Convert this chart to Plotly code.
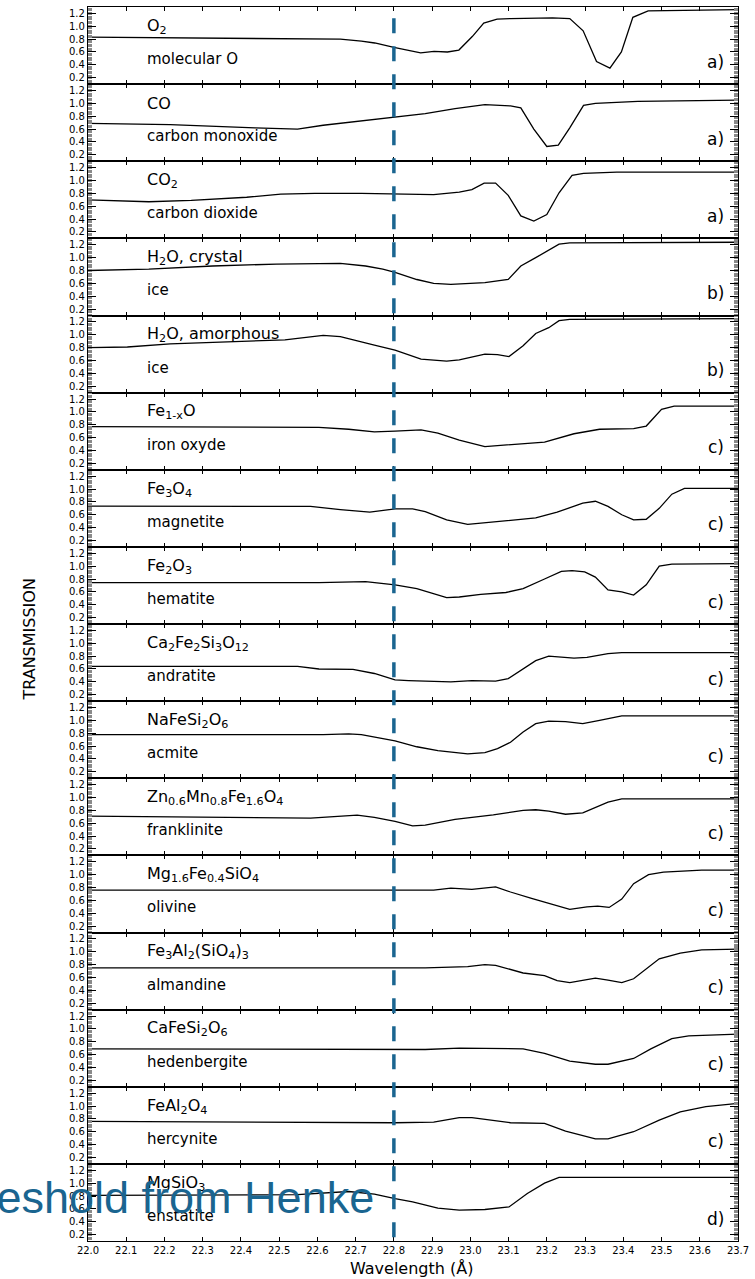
import plotly.graph_objects as go
from plotly.subplots import make_subplots

# ---- transmission curves (wavelength in Angstrom, transmission) ----
o2_wl = [22.00, 22.66, 22.715, 22.75, 22.80, 22.84, 22.87, 22.905, 22.94, 22.97, 23.005, 23.035,
         23.07, 23.105, 23.215, 23.26, 23.295, 23.33, 23.365, 23.395, 23.425, 23.465, 23.70]
o2_tr = [0.83, 0.80, 0.77, 0.74, 0.67, 0.62, 0.585, 0.61, 0.60, 0.63, 0.84, 1.05,
         1.11, 1.12, 1.13, 1.12, 0.93, 0.45, 0.35, 0.60, 1.14, 1.24, 1.26]

co_wl = [22.00, 22.215, 22.437, 22.526, 22.548, 22.615, 22.704, 22.803, 22.882, 22.96, 23.038,
         23.105, 23.132, 23.166, 23.20, 23.23, 23.26, 23.296, 23.327, 23.438, 23.70]
co_tr = [0.69, 0.67, 0.62, 0.595, 0.60, 0.66, 0.72, 0.79, 0.84, 0.92, 0.98,
         0.96, 0.93, 0.60, 0.33, 0.35, 0.62, 0.97, 1.00, 1.03, 1.05]

co2_wl = [22.00, 22.159, 22.27, 22.415, 22.504, 22.593, 22.715, 22.803, 22.904, 22.971, 23.004,
          23.036, 23.066, 23.099, 23.132, 23.166, 23.20, 23.232, 23.266, 23.296, 23.383, 23.70]
co2_tr = [0.70, 0.67, 0.69, 0.74, 0.79, 0.80, 0.80, 0.79, 0.78, 0.82, 0.86,
          0.96, 0.96, 0.77, 0.45, 0.37, 0.47, 0.81, 1.08, 1.11, 1.13, 1.13]

h2oc_wl = [22.00, 22.159, 22.326, 22.493, 22.66, 22.726, 22.771, 22.803, 22.86, 22.904, 22.949,
           23.038, 23.099, 23.132, 23.171, 23.232, 23.26, 23.70]
h2oc_tr = [0.80, 0.82, 0.87, 0.90, 0.91, 0.87, 0.82, 0.77, 0.66, 0.60, 0.585,
           0.61, 0.66, 0.87, 1.00, 1.21, 1.23, 1.24]

h2oa_wl = [22.00, 22.103, 22.215, 22.359, 22.515, 22.615, 22.66, 22.749, 22.803, 22.871, 22.938,
           22.971, 23.004, 23.038, 23.071, 23.101, 23.138, 23.171, 23.205, 23.232, 23.26, 23.70]
h2oa_tr = [0.80, 0.81, 0.86, 0.89, 0.92, 0.99, 0.97, 0.84, 0.76, 0.62, 0.59,
           0.61, 0.66, 0.70, 0.69, 0.66, 0.83, 1.02, 1.11, 1.22, 1.24, 1.25]

feo_wl = [22.00, 22.604, 22.682, 22.749, 22.803, 22.871, 22.915, 22.971, 23.038, 23.105, 23.194,
          23.271, 23.338, 23.427, 23.46, 23.50, 23.533, 23.70]
feo_tr = [0.77, 0.76, 0.73, 0.69, 0.70, 0.72, 0.67, 0.56, 0.46, 0.49, 0.53,
          0.66, 0.73, 0.74, 0.78, 1.04, 1.09, 1.09]

fe3o4_wl = [22.00, 22.582, 22.66, 22.737, 22.803, 22.849, 22.882, 22.938, 22.993, 23.049, 23.105,
            23.171, 23.227, 23.294, 23.327, 23.36, 23.396, 23.427, 23.46, 23.494, 23.527, 23.56, 23.70]
fe3o4_tr = [0.735, 0.73, 0.68, 0.64, 0.69, 0.69, 0.65, 0.52, 0.45, 0.48, 0.52,
            0.55, 0.64, 0.78, 0.81, 0.73, 0.60, 0.52, 0.53, 0.70, 0.92, 1.01, 1.01]

fe2o3_wl = [22.00, 22.604, 22.726, 22.803, 22.86, 22.938, 22.971, 23.027, 23.093, 23.138, 23.194,
            23.238, 23.266, 23.299, 23.327, 23.36, 23.396, 23.427, 23.46, 23.494, 23.527, 23.70]
fe2o3_tr = [0.745, 0.745, 0.76, 0.71, 0.65, 0.51, 0.52, 0.56, 0.59, 0.65, 0.80,
            0.92, 0.93, 0.91, 0.83, 0.63, 0.60, 0.55, 0.71, 1.00, 1.03, 1.04]

andr_wl = [22.00, 22.548, 22.604, 22.693, 22.749, 22.803, 22.838, 22.893, 22.949, 23.004, 23.066,
           23.099, 23.138, 23.171, 23.205, 23.232, 23.271, 23.305, 23.36, 23.396, 23.70]
andr_tr = [0.64, 0.64, 0.60, 0.595, 0.53, 0.43, 0.42, 0.41, 0.40, 0.42, 0.41,
           0.45, 0.60, 0.73, 0.80, 0.79, 0.77, 0.78, 0.84, 0.855, 0.855]

acm_wl = [22.00, 22.548, 22.615, 22.682, 22.715, 22.803, 22.86, 22.915, 22.993, 23.038, 23.071,
          23.105, 23.138, 23.171, 23.205, 23.249, 23.294, 23.338, 23.396, 23.70]
acm_tr = [0.78, 0.77, 0.78, 0.79, 0.78, 0.68, 0.59, 0.53, 0.48, 0.50, 0.56,
          0.66, 0.82, 0.95, 0.99, 0.98, 0.95, 1.00, 1.07, 1.07]

frank_wl = [22.00, 22.437, 22.582, 22.704, 22.749, 22.803, 22.849, 22.882, 22.96, 23.06, 23.138,
            23.171, 23.205, 23.249, 23.294, 23.36, 23.396, 23.70]
frank_tr = [0.71, 0.69, 0.68, 0.725, 0.69, 0.63, 0.56, 0.57, 0.66, 0.73, 0.80,
            0.81, 0.79, 0.74, 0.76, 0.93, 0.98, 0.98]

oliv_wl = [22.00, 22.803, 22.904, 22.949, 23.004, 23.066, 23.105, 23.16, 23.194, 23.26, 23.305,
           23.333, 23.363, 23.396, 23.427, 23.466, 23.505, 23.605, 23.70]
oliv_tr = [0.76, 0.755, 0.76, 0.79, 0.77, 0.81, 0.73, 0.63, 0.57, 0.46, 0.50,
           0.51, 0.49, 0.62, 0.86, 1.00, 1.04, 1.07, 1.07]

alm_wl = [22.00, 22.882, 22.993, 23.038, 23.066, 23.105, 23.138, 23.194, 23.227, 23.26, 23.294,
          23.327, 23.36, 23.396, 23.427, 23.46, 23.494, 23.549, 23.605, 23.70]
alm_tr = [0.75, 0.75, 0.77, 0.80, 0.79, 0.72, 0.67, 0.63, 0.55, 0.52, 0.55,
          0.59, 0.56, 0.52, 0.58, 0.74, 0.89, 0.98, 1.03, 1.04]

hed_wl = [22.00, 22.803, 22.882, 22.971, 23.049, 23.138, 23.194, 23.26, 23.327, 23.36, 23.427,
          23.472, 23.527, 23.571, 23.70]
hed_tr = [0.69, 0.68, 0.68, 0.70, 0.69, 0.69, 0.62, 0.50, 0.45, 0.45, 0.54,
          0.69, 0.85, 0.89, 0.92]

herc_wl = [22.00, 22.803, 22.904, 22.971, 23.004, 23.049, 23.105, 23.194, 23.249, 23.327, 23.36,
           23.427, 23.494, 23.549, 23.616, 23.70]
herc_tr = [0.76, 0.74, 0.75, 0.82, 0.82, 0.78, 0.74, 0.73, 0.61, 0.49, 0.49,
           0.60, 0.78, 0.91, 0.99, 1.04]

enst_wl = [22.00, 22.437, 22.548, 22.682, 22.749, 22.803, 22.849, 22.915, 22.971, 23.038, 23.101,
           23.149, 23.194, 23.232, 23.70]
enst_tr = [0.81, 0.81, 0.82, 0.87, 0.83, 0.76, 0.71, 0.61, 0.58, 0.59, 0.63,
           0.84, 1.00, 1.09, 1.09]

# ---- panel labels ----
formulas = ["O<sub>2</sub>", "CO", "CO<sub>2</sub>", "H<sub>2</sub>O, crystal", "H<sub>2</sub>O, amorphous",
            "Fe<sub>1-x</sub>O", "Fe<sub>3</sub>O<sub>4</sub>", "Fe<sub>2</sub>O<sub>3</sub>",
            "Ca<sub>2</sub>Fe<sub>2</sub>Si<sub>3</sub>O<sub>12</sub>", "NaFeSi<sub>2</sub>O<sub>6</sub>",
            "Zn<sub>0.6</sub>Mn<sub>0.8</sub>Fe<sub>1.6</sub>O<sub>4</sub>",
            "Mg<sub>1.6</sub>Fe<sub>0.4</sub>SiO<sub>4</sub>", "Fe<sub>3</sub>Al<sub>2</sub>(SiO<sub>4</sub>)<sub>3</sub>",
            "CaFeSi<sub>2</sub>O<sub>6</sub>", "FeAl<sub>2</sub>O<sub>4</sub>", "MgSiO<sub>3</sub>"]
names = ["molecular O", "carbon monoxide", "carbon dioxide", "ice", "ice", "iron oxyde", "magnetite",
         "hematite", "andratite", "acmite", "franklinite", "olivine", "almandine", "hedenbergite",
         "hercynite", "enstatite"]
refs = ["a)", "a)", "a)", "b)", "b)", "c)", "c)", "c)", "c)", "c)", "c)", "c)", "c)", "c)", "c)", "d)"]

wavelengths = [o2_wl, co_wl, co2_wl, h2oc_wl, h2oa_wl, feo_wl, fe3o4_wl, fe2o3_wl, andr_wl, acm_wl,
               frank_wl, oliv_wl, alm_wl, hed_wl, herc_wl, enst_wl]
transmissions = [o2_tr, co_tr, co2_tr, h2oc_tr, h2oa_tr, feo_tr, fe3o4_tr, fe2o3_tr, andr_tr, acm_tr,
                 frank_tr, oliv_tr, alm_tr, hed_tr, herc_tr, enst_tr]

y_ticks = [0.2, 0.4, 0.6, 0.8, 1.0, 1.2]
x_ticks = [round(22.0 + 0.1 * i, 1) for i in range(18)]
threshold = 22.8

FONT = "DejaVu Sans"
TEAL = "#1a6590"
n = len(formulas)

fig = make_subplots(rows=n, cols=1, shared_xaxes=True, vertical_spacing=0)

for i in range(n):
    row = i + 1
    fig.add_trace(go.Scatter(x=wavelengths[i], y=transmissions[i], mode="lines",
                             line=dict(color="black", width=1.3), showlegend=False,
                             hoverinfo="skip"), row=row, col=1)
    fig.update_xaxes(range=[22.0, 23.7], tickvals=x_ticks, ticktext=[f"{v:.1f}" for v in x_ticks],
                     ticks="inside", ticklen=4, tickwidth=1, tickcolor="black",
                     mirror="allticks", showline=True, linecolor="black", linewidth=1,
                     showgrid=False, zeroline=False, showticklabels=(row == n),
                     tickfont=dict(family=FONT, size=10, color="black"),
                     row=row, col=1)
    fig.update_yaxes(range=[0.1, 1.3], tickvals=y_ticks, ticktext=[f"{v:.1f}" for v in y_ticks],
                     ticks="inside", ticklen=8, tickwidth=1, tickcolor="black",
                     minor=dict(dtick=0.02, tick0=0.0, ticks="inside", ticklen=4, tickwidth=0.8,
                                tickcolor="#8a8a8a", showgrid=False),
                     mirror="allticks", showline=True, linecolor="black", linewidth=1.2,
                     showgrid=False, zeroline=False,
                     tickfont=dict(family=FONT, size=10, color="black"),
                     row=row, col=1)
    xr = "x" if row == 1 else f"x{row}"
    yr = "y" if row == 1 else f"y{row}"
    fig.add_annotation(x=22.148, y=1.0, xref=xr, yref=yr, text=formulas[i], showarrow=False,
                       xanchor="left", yanchor="middle",
                       font=dict(family=FONT, size=16, color="black"))
    fig.add_annotation(x=22.148, y=0.49, xref=xr, yref=yr, text=names[i], showarrow=False,
                       xanchor="left", yanchor="middle",
                       font=dict(family=FONT, size=15, color="black"))
    fig.add_annotation(x=23.668, y=0.45, xref=xr, yref=yr, text=refs[i], showarrow=False,
                       xanchor="right", yanchor="middle",
                       font=dict(family=FONT, size=17, color="black"))

# dashed threshold marker across all panels
fig.add_shape(type="line", xref="x", yref="paper", x0=threshold, x1=threshold, y0=0.003, y1=1.0,
              line=dict(color=TEAL, width=3.5, dash="15px,13px"))

fig.add_annotation(x=threshold, y=0.77, xref=f"x{n}", yref=f"y{n}", text="Threshold from Henke",
                   showarrow=False, xanchor="right", yanchor="middle", xshift=-18,
                   font=dict(family="Liberation Sans", size=45, color=TEAL))

# axis titles
fig.add_annotation(x=-0.09, y=0.487, xref="paper", yref="paper", text="TRANSMISSION",
                   showarrow=False, textangle=-90, xanchor="center", yanchor="middle",
                   font=dict(family=FONT, size=16, color="black"))
fig.add_annotation(x=0.497, y=-0.0219, xref="paper", yref="paper", text="Wavelength (Å)",
                   showarrow=False, xanchor="center", yanchor="middle",
                   font=dict(family=FONT, size=16, color="black"))

fig.update_layout(width=755, height=1279, margin=dict(l=88, r=13, t=6, b=38),
                  paper_bgcolor="white", plot_bgcolor="white", showlegend=False)

fig.write_html("out.html")
